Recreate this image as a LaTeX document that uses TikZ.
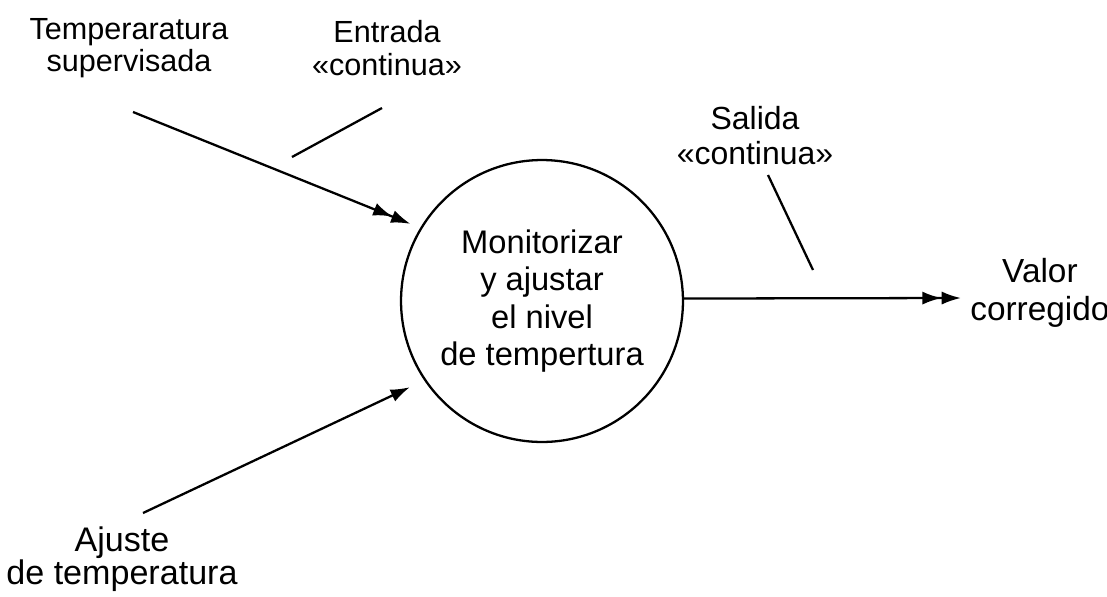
\documentclass[tikz,border=0pt]{standalone}
\usepackage{fontspec}
\setmainfont{Liberation Sans}
\usetikzlibrary{arrows.meta}

\begin{document}
\begin{tikzpicture}[x=0.02cm,y=-0.02cm,
    lbl/.style={align=center,inner sep=0pt,font=\fontsize{17.4}{18.4}\selectfont},
    flow/.style={line width=1.3pt},
    one/.style={-{Latex[length=11pt,width=7.5pt]}},
    two/.style={-{Latex[length=11pt,width=7.5pt]Latex[length=11pt,width=7.5pt]}}]
      \useasboundingbox (0,0) rectangle (1107,596);
      \node[circle,draw,line width=1.3pt,minimum size=5.64cm,inner sep=0pt,align=center,
            font=\fontsize{18.6}{21.2}\selectfont] (p) at (542,301)
            {Monitorizar\\y ajustar\\el nivel\\de tempertura};
      \node[lbl] (ts) at (129,48) {Temperaratura\\supervisada};
      \node[lbl] (ec) at (387,48) {Entrada\\«continua»};
      \node[lbl,font=\fontsize{18.2}{19.9}\selectfont] (sc) at (755,136) {Salida\\«continua»};
      \node[lbl,font=\fontsize{19.4}{16.5}\selectfont] (at) at (122,559) {Ajuste\\de temperatura};
      \node[lbl,font=\fontsize{19}{21.6}\selectfont,anchor=west] (vc) at (970,293) {Valor\\corregido};
      \coordinate (tsOut) at (133,112);
      \coordinate (atOut) at (143,513);
      \coordinate (vcIn) at (961,298);
      \coordinate (ecA) at (382,108);
      \coordinate (ecB) at (292,157);
      \coordinate (scA) at (768,175);
      \coordinate (scB) at (813,270);
      \draw[flow,two,shorten >=6pt] (tsOut) -- (p.149);
      \draw[flow,one,shorten >=9pt] (atOut) -- (p.214);
      \draw[flow,two] (p.1) -- (vcIn);
      \draw[flow] (ecA) -- (ecB);
      \draw[flow] (scA) -- (scB);
    \end{tikzpicture}
\end{document}
